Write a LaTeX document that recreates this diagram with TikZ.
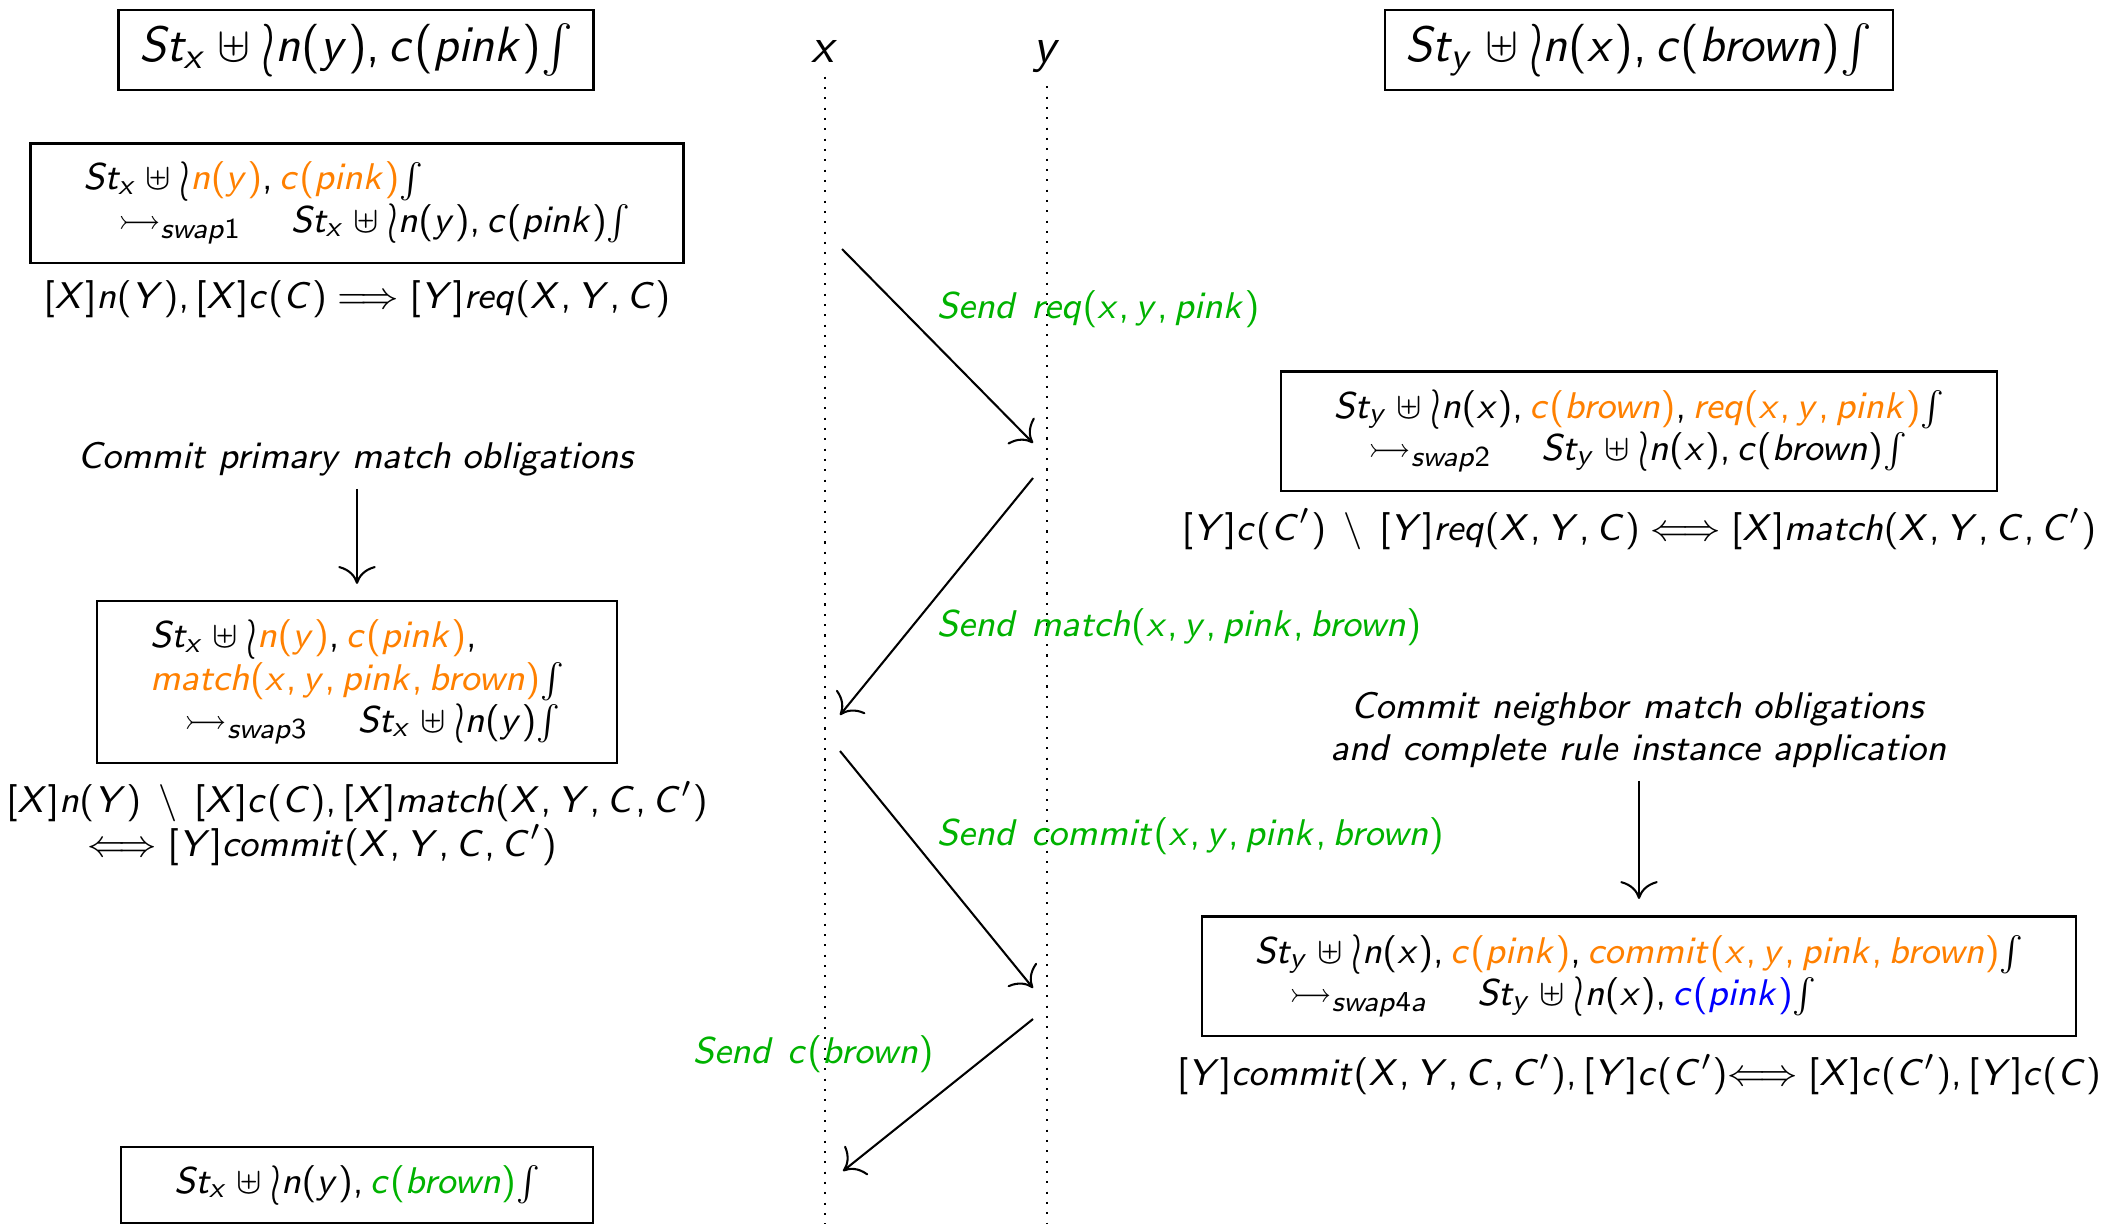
\documentclass[tikz,border=0pt]{standalone}
\usepackage{amsmath, amssymb}
\usepackage{tikz}
\usetikzlibrary{arrows.meta,positioning}
\usepackage{xcolor}
% sans serif math as on the slides
\DeclareSymbolFont{operators}{OT1}{cmss}{m}{n}
\DeclareSymbolFont{letters}{OT1}{cmss}{m}{sl}
\DeclareMathSymbol{,}{\mathpunct}{operators}{"2C}
\definecolor{oblorange}{RGB}{255,128,0}
\definecolor{sendgreen}{RGB}{0,178,0}
\newcommand{\mlb}{\mathopen{\smash{\raisebox{-0.4ex}{\scalebox{1}[1.6]{$\wr$}}}}}
\newcommand{\mrb}{\mathclose{\scalebox{0.9}{$\int$}}}
\newcommand{\mminus}{\mathrel{\,\setminus\,}}
\newcommand{\ob}[1]{\textcolor{oblorange}{#1}}
\newcommand{\slidefont}{\fontsize{9.3}{10.2}\selectfont\lineskiplimit=-20pt\relax}
\newcommand{\rulefont}{\fontsize{9.3}{10.6}\selectfont\lineskiplimit=-20pt\relax}

\begin{document}
\begin{tikzpicture}[
        x=0.242pt, y=-0.242pt,
        stbox/.style={draw, rectangle, line width=0.5pt, align=left, inner xsep=12.8pt, inner ysep=4.5pt, font=\slidefont},
        topbox/.style={draw, rectangle, line width=0.5pt, inner xsep=5pt, inner ysep=3.2pt, font=\fontsize{12.8}{15}\selectfont},
        rulebox/.style={font=\rulefont, inner sep=1pt},
        note/.style={align=center, font=\slidefont, inner sep=1pt},
        msg/.style={anchor=west, text=sendgreen, font=\slidefont, inner sep=0pt},
        arr/.style={-{To[scale=1.6]}, line width=0.5pt},
        life/.style={dotted, line width=0.5pt}
    ]
        \useasboundingbox (0,0) rectangle (2122,1223);

        % lifelines
        \node[anchor=base, font=\fontsize{12.5}{15}\selectfont] (lx) at (825,62) {$x$};
        \node[anchor=base, font=\fontsize{12.5}{15}\selectfont] (ly) at (1047,62) {$y$};
        \coordinate (xbot) at (825,1230);
        \coordinate (ybot) at (1047,1230);
        \draw[life] (lx.south) -- (xbot);
        \draw[life] (ly.south) -- (ybot);

        \node[topbox] (topx) at (356,50) {$St_x \uplus \mlb n(y), c(pink)\mrb$};
        \node[topbox] (topy) at (1639,50) {$St_y \uplus \mlb n(x), c(brown)\mrb$};

        % node x side
        \node[stbox] (stx1) at (357,203) {$St_x \uplus \mlb \ob{n(y)}, \ob{c(pink)}\mrb$\\\hspace*{0.9em}$\rightarrowtail_{swap1}\quad St_x \uplus \mlb n(y), c(pink)\mrb$};
        \node[rulebox, below=3pt of stx1] (rule1) {$[X]n(Y),[X]c(C) \Longrightarrow [Y]req(X,Y,C)$};

        \node[note] (cm1) at (357,459) {$Commit\;primary\;match\;obligations$};

        \node[stbox] (stx3) at (357,682) {$St_x \uplus \mlb \ob{n(y)}, \ob{c(pink)},$\\$\ob{match(x,y,pink,brown)}\mrb$\\\hspace*{0.9em}$\rightarrowtail_{swap3}\quad St_x \uplus \mlb n(y)\mrb$};
        \node[rulebox, align=left, below=3pt of stx3] (rule3) {$[X]n(Y) \mminus [X]c(C),[X]match(X,Y,C,C')$\\\hspace*{2.1em}$\Longleftrightarrow [Y]commit(X,Y,C,C')$};

        \node[stbox, anchor=north] (stx5) at (357,1146) {$St_x \uplus \mlb n(y), \textcolor{sendgreen}{c(brown)}\mrb$};

        \draw[arr, shorten <=2pt, shorten >=4pt] (cm1) -- (stx3);

        % node y side
        \node[stbox] (sty2) at (1639,431) {$St_y \uplus \mlb n(x), \ob{c(brown)}, \ob{req(x,y,pink)}\mrb$\\\hspace*{0.9em}$\rightarrowtail_{swap2}\quad St_y \uplus \mlb n(x), c(brown)\mrb$};
        \node[rulebox, below=3pt of sty2] (rule2) {$[Y]c(C') \mminus [Y]req(X,Y,C) \Longleftrightarrow [X]match(X,Y,C,C')$};

        \node[note] (cm2) at (1639,730) {$Commit\;neighbor\;match\;obligations$\\$and\;complete\;rule\;instance\;application$};

        \node[stbox] (sty4) at (1639,976) {$St_y \uplus \mlb n(x), \ob{c(pink)}, \ob{commit(x,y,pink,brown)}\mrb$\\\hspace*{0.9em}$\rightarrowtail_{swap4a}\quad St_y \uplus \mlb n(x), \textcolor{blue}{c(pink)}\mrb$};
        \node[rulebox, below=3pt of sty4] (rule4) {$[Y]commit(X,Y,C,C'),[Y]c(C'){\Longleftrightarrow}\;[X]c(C'),[Y]c(C)$};

        \draw[arr, shorten <=2pt, shorten >=4pt] (cm2) -- (sty4);

        % messages
        \coordinate (m1s) at (842,249);
        \coordinate (m1e) at (1033,443);
        \coordinate (m2s) at (1033,478);
        \coordinate (m2e) at (840,715);
        \coordinate (m3s) at (840,751);
        \coordinate (m3e) at (1033,988);
        \coordinate (m4s) at (1033,1019);
        \coordinate (m4e) at (843,1171);

        \draw[arr] (m1s) -- (m1e);
        \draw[arr] (m2s) -- (m2e);
        \draw[arr] (m3s) -- (m3e);
        \draw[arr] (m4s) -- (m4e);

        \node[msg] (send1) at (936,309) {$Send\ req(x,y,pink)$};
        \node[msg] (send2) at (936,627) {$Send\ match(x,y,pink,brown)$};
        \node[msg] (send3) at (936,836) {$Send\ commit(x,y,pink,brown)$};
        \node[msg] (send4) at (692,1054) {$Send\ c(brown)$};

\end{tikzpicture}
\end{document}
